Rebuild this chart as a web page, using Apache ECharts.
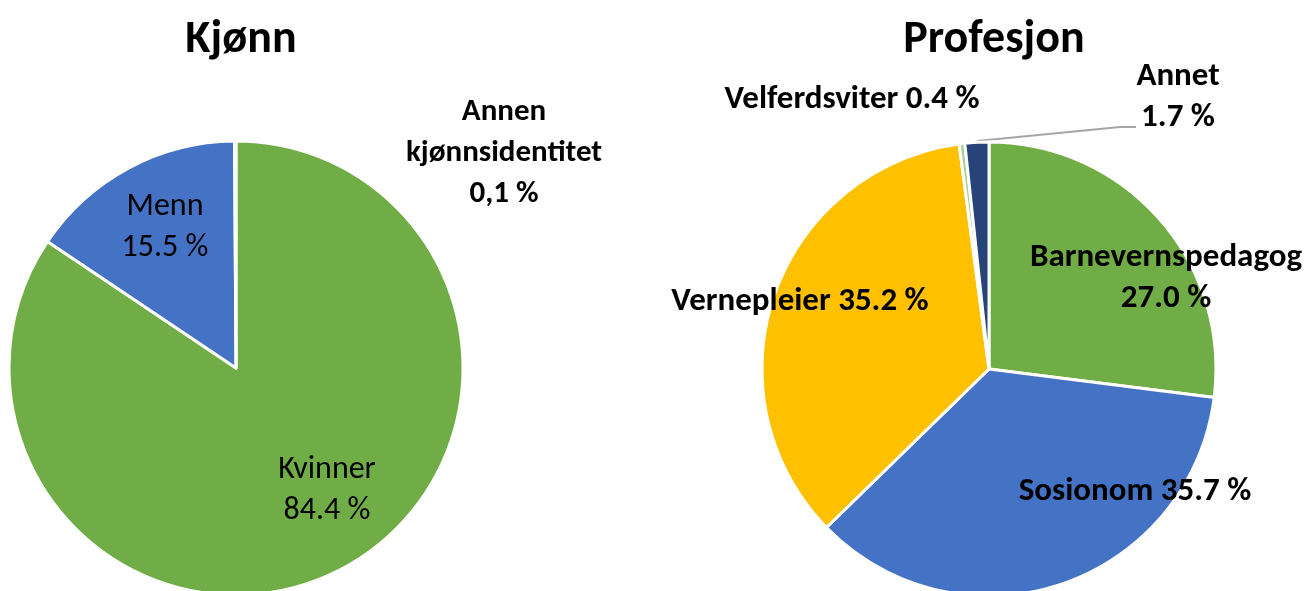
<!DOCTYPE html>
<html>
<head>
<meta charset="utf-8">
<script src="https://cdn.jsdelivr.net/npm/echarts@6/dist/echarts.min.js"></script>
<style>
html, body { margin: 0; padding: 0; background: #ffffff; }
#chart { width: 1307px; height: 591px; }
</style>
</head>
<body>
<div id="chart"></div>
<script>
// Kjønn
const genderNames = ['Kvinner', 'Menn', 'Annen\nkjønnsidentitet'];
const genderValues = [84.4, 15.5, 0.1];
const genderSep = ['\n', '\n', '\n'];
const genderDecimal = ['.', '.', ','];
// Profesjon
const profNames = ['Barnevernspedagog', 'Sosionom', 'Vernepleier', 'Velferdsviter', 'Annet'];
const profValues = [27.0, 35.7, 35.2, 0.4, 1.7];
const profSep = ['\n', ' ', ' ', ' ', '\n'];

const genderColors = ['#70AD47', '#4472C4', '#A5A5A5'];
const profColors = ['#70AD47', '#4472C4', '#FFC000', '#A9D18E', '#264478'];

// label anchor points (layout only)
const genderLabelPos = [[327, 490], [165, 227], [504, 153]];
const profLabelPos = [[1166, 278], [1135, 492], [800, 302], [852, 100], [1178, 97]];

const FONT = 'Carlito, Lato, "Open Sans", sans-serif';

function fmt(v, dec) {
    return v.toFixed(1).replace('.', dec || '.') + ' %';
}

const chart = echarts.init(document.getElementById('chart'), null, { renderer: 'canvas' });

chart.setOption({
    animation: false,
    title: [
        {
            text: 'Kjønn',
            left: 236,
            top: 35,
            textAlign: 'center',
            textVerticalAlign: 'middle',
            textStyle: { fontFamily: FONT, fontSize: 46, fontWeight: 'bold', color: '#000' },
        },
        {
            text: 'Profesjon',
            left: 989,
            top: 35,
            textAlign: 'center',
            textVerticalAlign: 'middle',
            textStyle: { fontFamily: FONT, fontSize: 46, fontWeight: 'bold', color: '#000' },
        },
    ],
    series: [
        {
            type: 'pie',
            center: [236, 368],
            radius: 227,
            startAngle: 90,
            clockwise: true,
            avoidLabelOverlap: false,
            itemStyle: { borderColor: '#fff', borderWidth: 3 },
            emphasis: { disabled: true },
            data: genderNames.map((n, i) => ({
                name: n,
                value: genderValues[i],
                itemStyle: { color: genderColors[i] },
                label: i === 2 ? { fontWeight: 'bold', fontSize: 31 } : { fontWeight: 'normal' },
            })),
            label: {
                show: true,
                position: 'inside',
                fontFamily: FONT,
                fontSize: 32,
                lineHeight: 41,
                color: '#000',
                align: 'center',
                verticalAlign: 'middle',
                formatter: (p) => p.name + genderSep[p.dataIndex] + fmt(p.value, genderDecimal[p.dataIndex]),
            },
            labelLine: { show: false },
            labelLayout: (p) => ({
                x: genderLabelPos[p.dataIndex][0],
                y: genderLabelPos[p.dataIndex][1],
                align: 'center',
                verticalAlign: 'middle',
            }),
        },
        {
            type: 'pie',
            center: [989, 369],
            radius: 227,
            startAngle: 90,
            clockwise: true,
            avoidLabelOverlap: false,
            itemStyle: { borderColor: '#fff', borderWidth: 3 },
            emphasis: { disabled: true },
            data: profNames.map((n, i) => ({
                name: n,
                value: profValues[i],
                itemStyle: { color: profColors[i] },
                labelLine: i === 4 ? { show: true } : { show: false },
            })),
            label: {
                show: true,
                position: 'outside',
                fontFamily: FONT,
                fontSize: 33,
                fontWeight: 'bold',
                lineHeight: 41,
                color: '#000',
                align: 'center',
                verticalAlign: 'middle',
                formatter: (p) => p.name + profSep[p.dataIndex] + fmt(p.value),
            },
            labelLine: {
                show: false,
                lineStyle: { color: '#A6A6A6', width: 2 },
            },
            labelLayout: (p) => {
                const out = {
                    x: profLabelPos[p.dataIndex][0],
                    y: profLabelPos[p.dataIndex][1],
                    align: 'center',
                    verticalAlign: 'middle',
                };
                if (p.dataIndex === 4) {
                    out.labelLinePoints = [[977, 141], [1120, 127], [1136, 127]];
                }
                return out;
            },
        },
    ],
});
</script>
</body>
</html>
